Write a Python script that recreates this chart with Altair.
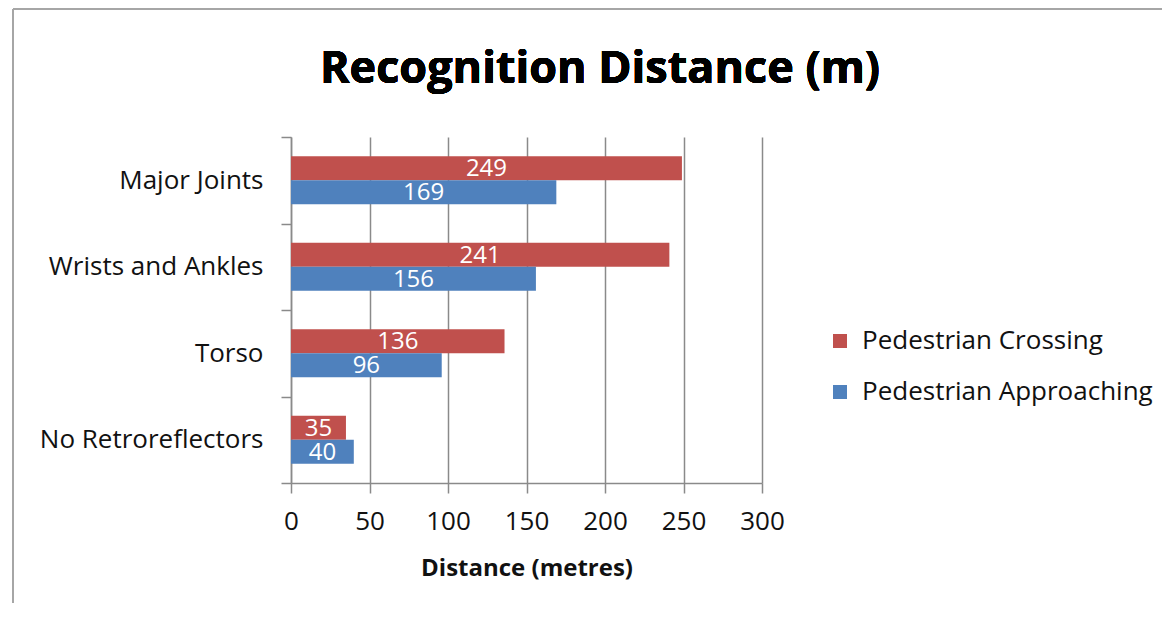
import altair as alt
import pandas as pd

categories = ["Major Joints", "Wrists and Ankles", "Torso", "No Retroreflectors"]
series = ["Pedestrian Crossing", "Pedestrian Approaching"]
crossing = [249, 241, 136, 35]
approaching = [169, 156, 96, 40]
x_ticks = [0, 50, 100, 150, 200, 250, 300]
title_text = "Recognition Distance (m)"

rows = []
for c, a, b in zip(categories, crossing, approaching):
    rows.append({"cat": c, "series": series[0], "value": a})
    rows.append({"cat": c, "series": series[1], "value": b})
df = pd.DataFrame(rows)

FONT = "Open Sans"
GRAY = "#8a8a8a"
TXT = "#111111"

y_enc = alt.Y("cat:N", sort=categories, title=None,
              scale=alt.Scale(paddingInner=0, paddingOuter=0),
              axis=alt.Axis(tickBand="extent", tickSize=10, labelPadding=18,
                            labelFontSize=26, labelColor=TXT, labelFont=FONT, labelLimit=400,
                            domainColor=GRAY, tickColor=GRAY, domainWidth=1.5, tickWidth=1.5))
yoff_enc = alt.YOffset("series:N", sort=series,
                       scale=alt.Scale(paddingInner=0, paddingOuter=0.8))
color_enc = alt.Color("series:N", sort=series,
                      scale=alt.Scale(domain=series, range=["#C0504D", "#4F81BD"]),
                      legend=alt.Legend(title=None, orient="none", legendX=536, legendY=191,
                                        symbolType="square", symbolSize=196, symbolStrokeWidth=0,
                                        labelFontSize=26, labelFont=FONT, labelColor=TXT,
                                        labelLimit=500, rowPadding=25, labelOffset=9))

bars = alt.Chart(df).mark_bar().encode(
    x=alt.X("value:Q", title="Distance (metres)",
            scale=alt.Scale(domain=[0, 300], nice=False),
            axis=alt.Axis(values=x_ticks, tickSize=10, labelPadding=15, labelFontSize=26,
                          labelFont=FONT, labelColor=TXT, labelFlush=False,
                          titleFont=FONT, titleFontSize=24, titleFontWeight="bold",
                          titleColor=TXT, titlePadding=22,
                          grid=True, gridColor=GRAY, gridWidth=1.5,
                          domainColor=GRAY, tickColor=GRAY, domainWidth=1.5, tickWidth=1.5)),
    y=y_enc,
    yOffset=yoff_enc,
    color=color_enc,
)

labels = alt.Chart(df).transform_calculate(mid="datum.value / 2").mark_text(
    color="white", fontSize=24, font=FONT, baseline="middle", align="center", dy=1
).encode(
    x=alt.X("mid:Q"),
    y=alt.Y("cat:N", sort=categories),
    yOffset=alt.YOffset("series:N", sort=series),
    text=alt.Text("value:Q"),
)

title = alt.Chart(df).mark_text(
    font=FONT, fontSize=45, fontWeight="bold", color="#000000",
    align="center", baseline="alphabetic"
).encode(x=alt.value(309), y=alt.value(-54), text=alt.value(title_text))

frame_top = alt.Chart(df).mark_rule(color="#a6a6a6", strokeWidth=2).encode(
    x=alt.value(-278), x2=alt.value(900), y=alt.value(-128))
frame_left = alt.Chart(df).mark_rule(color="#a6a6a6", strokeWidth=2).encode(
    x=alt.value(-278), y=alt.value(-128), y2=alt.value(480))

chart = alt.layer(frame_top, frame_left, title, bars, labels).properties(
    width=471, height=346,
    autosize=alt.AutoSizeParams(type="none"),
    padding={"left": 283, "top": 129, "right": 400, "bottom": 120},
).configure_view(stroke=None).configure_axisY(grid=False)

chart.save("out.html", embed_options={"renderer": "svg", "actions": False})
